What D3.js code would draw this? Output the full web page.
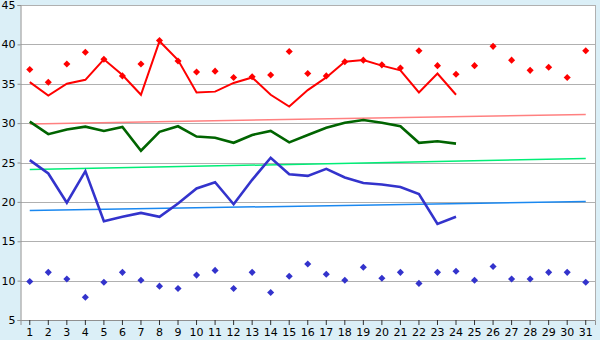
<!DOCTYPE html>
<html>
<head>
<meta charset="utf-8">
<script src="https://cdn.jsdelivr.net/npm/d3@7"></script>
<style>
  html, body { margin: 0; padding: 0; background: #dbeff7; }
  svg { display: block; }
  .axis text { font-family: "DejaVu Sans", Verdana, sans-serif; font-size: 11px; fill: #000; }
</style>
</head>
<body>
<div id="chart"></div>
<script>
const days = d3.range(1, 32);
const yTicks = [5, 10, 15, 20, 25, 30, 35, 40, 45];

const redLine = [35.2, 33.5, 35.0, 35.5, 38.1, 36.1, 33.6, 40.4, 38.0, 33.9, 34.0, 35.1,
  35.8, 33.6, 32.1, 34.2, 35.8, 37.8, 38.0, 37.3, 36.7, 33.9, 36.3, 33.6];
const redPoints = [36.8, 35.2, 37.5, 39.0, 38.1, 36.0, 37.5, 40.5, 37.9, 36.5, 36.6, 35.8,
  35.9, 36.1, 39.1, 36.3, 36.0, 37.8, 38.0, 37.4, 37.0, 39.2, 37.3, 36.2, 37.3, 39.75,
  38.0, 36.7, 37.1, 35.8, 39.2];
const greenLine = [30.2, 28.6, 29.2, 29.55, 29.0, 29.5, 26.5, 28.9, 29.6, 28.3, 28.15, 27.5,
  28.5, 29.0, 27.55, 28.5, 29.4, 30.05, 30.4, 30.05, 29.6, 27.5, 27.7, 27.4];
const blueLine = [25.3, 23.6, 19.9, 23.9, 17.55, 18.1, 18.6, 18.1, 19.8, 21.7, 22.5, 19.7,
  22.8, 25.6, 23.5, 23.3, 24.2, 23.1, 22.4, 22.2, 21.9, 21.0, 17.2, 18.1];
const bluePoints = [9.9, 11.05, 10.2, 7.9, 9.8, 11.05, 10.05, 9.3, 9.0, 10.7, 11.3, 9.0,
  11.05, 8.5, 10.55, 12.1, 10.8, 10.05, 11.7, 10.3, 11.05, 9.65, 11.05, 11.2, 10.05, 11.8,
  10.2, 10.2, 11.05, 11.05, 9.8];
// trend lines, value at day 1 and day 31
const redTrend = [29.9, 31.1];
const greenTrend = [24.1, 25.5];
const blueTrend = [18.9, 20.05];

const width = 600, height = 340;
const plotL = 20.5, plotR = 595, plotT = 5, plotB = 320;

const svg = d3.select('#chart').append('svg')
  .attr('width', width)
  .attr('height', height);

const x = d3.scaleBand().domain(days).range([plotL, plotR]);
const cx = (d) => x(d) + x.bandwidth() / 2;
const y = d3.scaleLinear().domain([5, 45]).range([plotB, plotT]);

svg.append('rect')
  .attr('x', plotL).attr('y', plotT)
  .attr('width', plotR - plotL).attr('height', plotB - plotT)
  .attr('fill', '#fff');

// grid
svg.append('g')
  .selectAll('line')
  .data(yTicks)
  .enter()
  .append('line')
  .attr('x1', plotL).attr('x2', plotR)
  .attr('y1', (d) => Math.round(y(d)) + 0.5)
  .attr('y2', (d) => Math.round(y(d)) + 0.5)
  .attr('stroke', '#b0b0b0');

svg.append('line')
  .attr('x1', plotR + 0.5).attr('x2', plotR + 0.5)
  .attr('y1', plotT).attr('y2', plotB)
  .attr('stroke', '#b0b0b0');

// axes
const yAxis = svg.append('g')
  .attr('class', 'axis')
  .attr('transform', `translate(${plotL},0)`)
  .call(d3.axisLeft(y).tickValues(yTicks).tickSize(3).tickPadding(2));
yAxis.select('.domain').attr('stroke', '#909090');
yAxis.selectAll('.tick line').attr('stroke', '#909090');

const xAxis = svg.append('g')
  .attr('class', 'axis')
  .attr('transform', `translate(0,${plotB})`)
  .call(d3.axisBottom(x).tickSize(5).tickPadding(3));
xAxis.select('.domain').attr('stroke', '#909090');
xAxis.selectAll('.tick line').attr('stroke', '#303030');

// trend lines
const trends = [
  { vals: redTrend, color: '#ff8080' },
  { vals: greenTrend, color: '#00ee77' },
  { vals: blueTrend, color: '#1a88f0' }
];
svg.append('g')
  .selectAll('line')
  .data(trends)
  .enter()
  .append('line')
  .attr('x1', cx(1)).attr('x2', cx(31))
  .attr('y1', (d) => y(d.vals[0]))
  .attr('y2', (d) => y(d.vals[1]))
  .attr('stroke', (d) => d.color)
  .attr('stroke-width', 1.5);

const line = d3.line()
  .x((d, i) => cx(days[i]))
  .y((d) => y(d));

const series = [
  { vals: redLine, color: '#ff0000', w: 2 },
  { vals: greenLine, color: '#006400', w: 2.6 },
  { vals: blueLine, color: '#3333cc', w: 2.6 }
];
svg.append('g')
  .selectAll('path')
  .data(series)
  .enter()
  .append('path')
  .attr('d', (d) => line(d.vals))
  .attr('fill', 'none')
  .attr('stroke', (d) => d.color)
  .attr('stroke-width', (d) => d.w);

// markers: small squares turned 45 degrees
const marker = d3.symbol().type(d3.symbolSquare).size(25);
const points = [
  { vals: redPoints, color: '#ff0000' },
  { vals: bluePoints, color: '#3333cc' }
];
points.forEach((p) => {
  svg.append('g')
    .selectAll('path')
    .data(p.vals)
    .enter()
    .append('path')
    .attr('d', marker)
    .attr('transform', (d, i) => `translate(${cx(days[i])},${y(d)}) rotate(45)`)
    .attr('fill', p.color);
});
</script>
</body>
</html>
